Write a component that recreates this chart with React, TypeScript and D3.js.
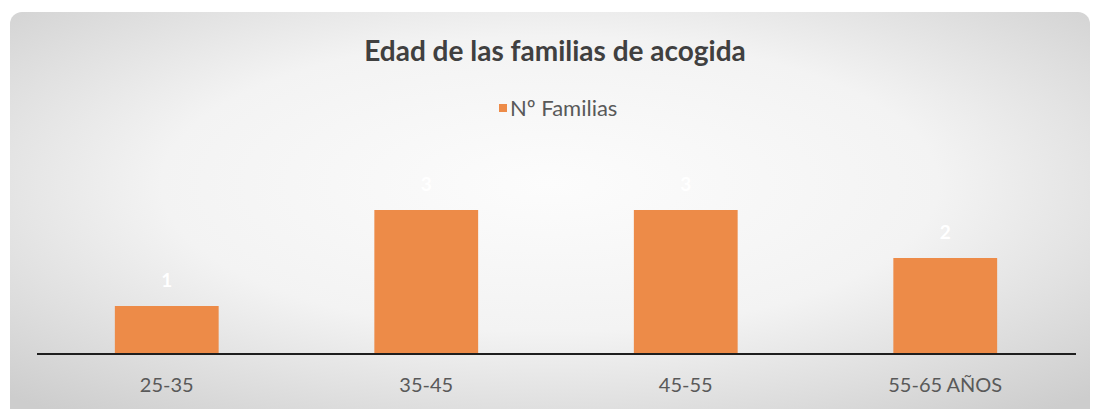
import { scaleBand, scaleLinear } from "d3";

const categories = ["25-35", "35-45", "45-55", "55-65 AÑOS"];
const familias = [1, 3, 3, 2];
const seriesName = "Nº Familias";
const title = "Edad de las familias de acogida";

const W = 1093;
const H = 409;
const barColor = "#ED8B48";

const App = () => {
  // outer padding = half the inner padding so bars sit centred in each quarter
  const xScale = scaleBand<string>()
    .domain(categories)
    .range([37, 1075])
    .paddingInner(0.6)
    .paddingOuter(0.3);
  const yScale = scaleLinear().domain([0, 3]).range([354, 210]);
  const bw = xScale.bandwidth();

  return (
    <svg width={W} height={H} style={{ position: "absolute", left: 0, top: 0 }} fontFamily="Lato, 'Open Sans', sans-serif">
      <defs>
        <radialGradient id="bg" cx="50%" cy="42%" r="72%">
          <stop offset="0%" stopColor="#fcfcfc" />
          <stop offset="50%" stopColor="#f3f3f3" />
          <stop offset="100%" stopColor="#cdcdcd" />
        </radialGradient>
      </defs>
      <rect width={W} height={H} fill="#ffffff" />
      <rect x={10} y={12} width={1080} height={410} rx={12} fill="url(#bg)" />

      <text x={555} y={61} textAnchor="middle" fontSize={28} fontWeight="bold" fill="#404040">
        {title}
      </text>

      <rect x={499} y={104} width={8} height={8} fill={barColor} />
      <text x={510} y={116} fontSize={22} fill="#595959">
        {seriesName}
      </text>

      {familias.map((v, i) => {
        const x = xScale(categories[i])!;
        const y = yScale(v);
        return (
          <g key={`bar-${i}`}>
            <rect x={x} y={y} width={bw} height={yScale(0) - y} fill={barColor} />
            <text x={x + bw / 2} y={y - 19} textAnchor="middle" fontSize={19} fontWeight="bold" fill="#ffffff">
              {v}
            </text>
          </g>
        );
      })}

      <line x1={37} x2={1076} y1={yScale(0)} y2={yScale(0)} stroke="#1e1e1e" strokeWidth={2} />

      {categories.map((c) => (
        <text key={c} x={xScale(c)! + bw / 2} y={392} textAnchor="middle" fontSize={20} fill="#595959">
          {c}
        </text>
      ))}
    </svg>
  );
};

export default App;
